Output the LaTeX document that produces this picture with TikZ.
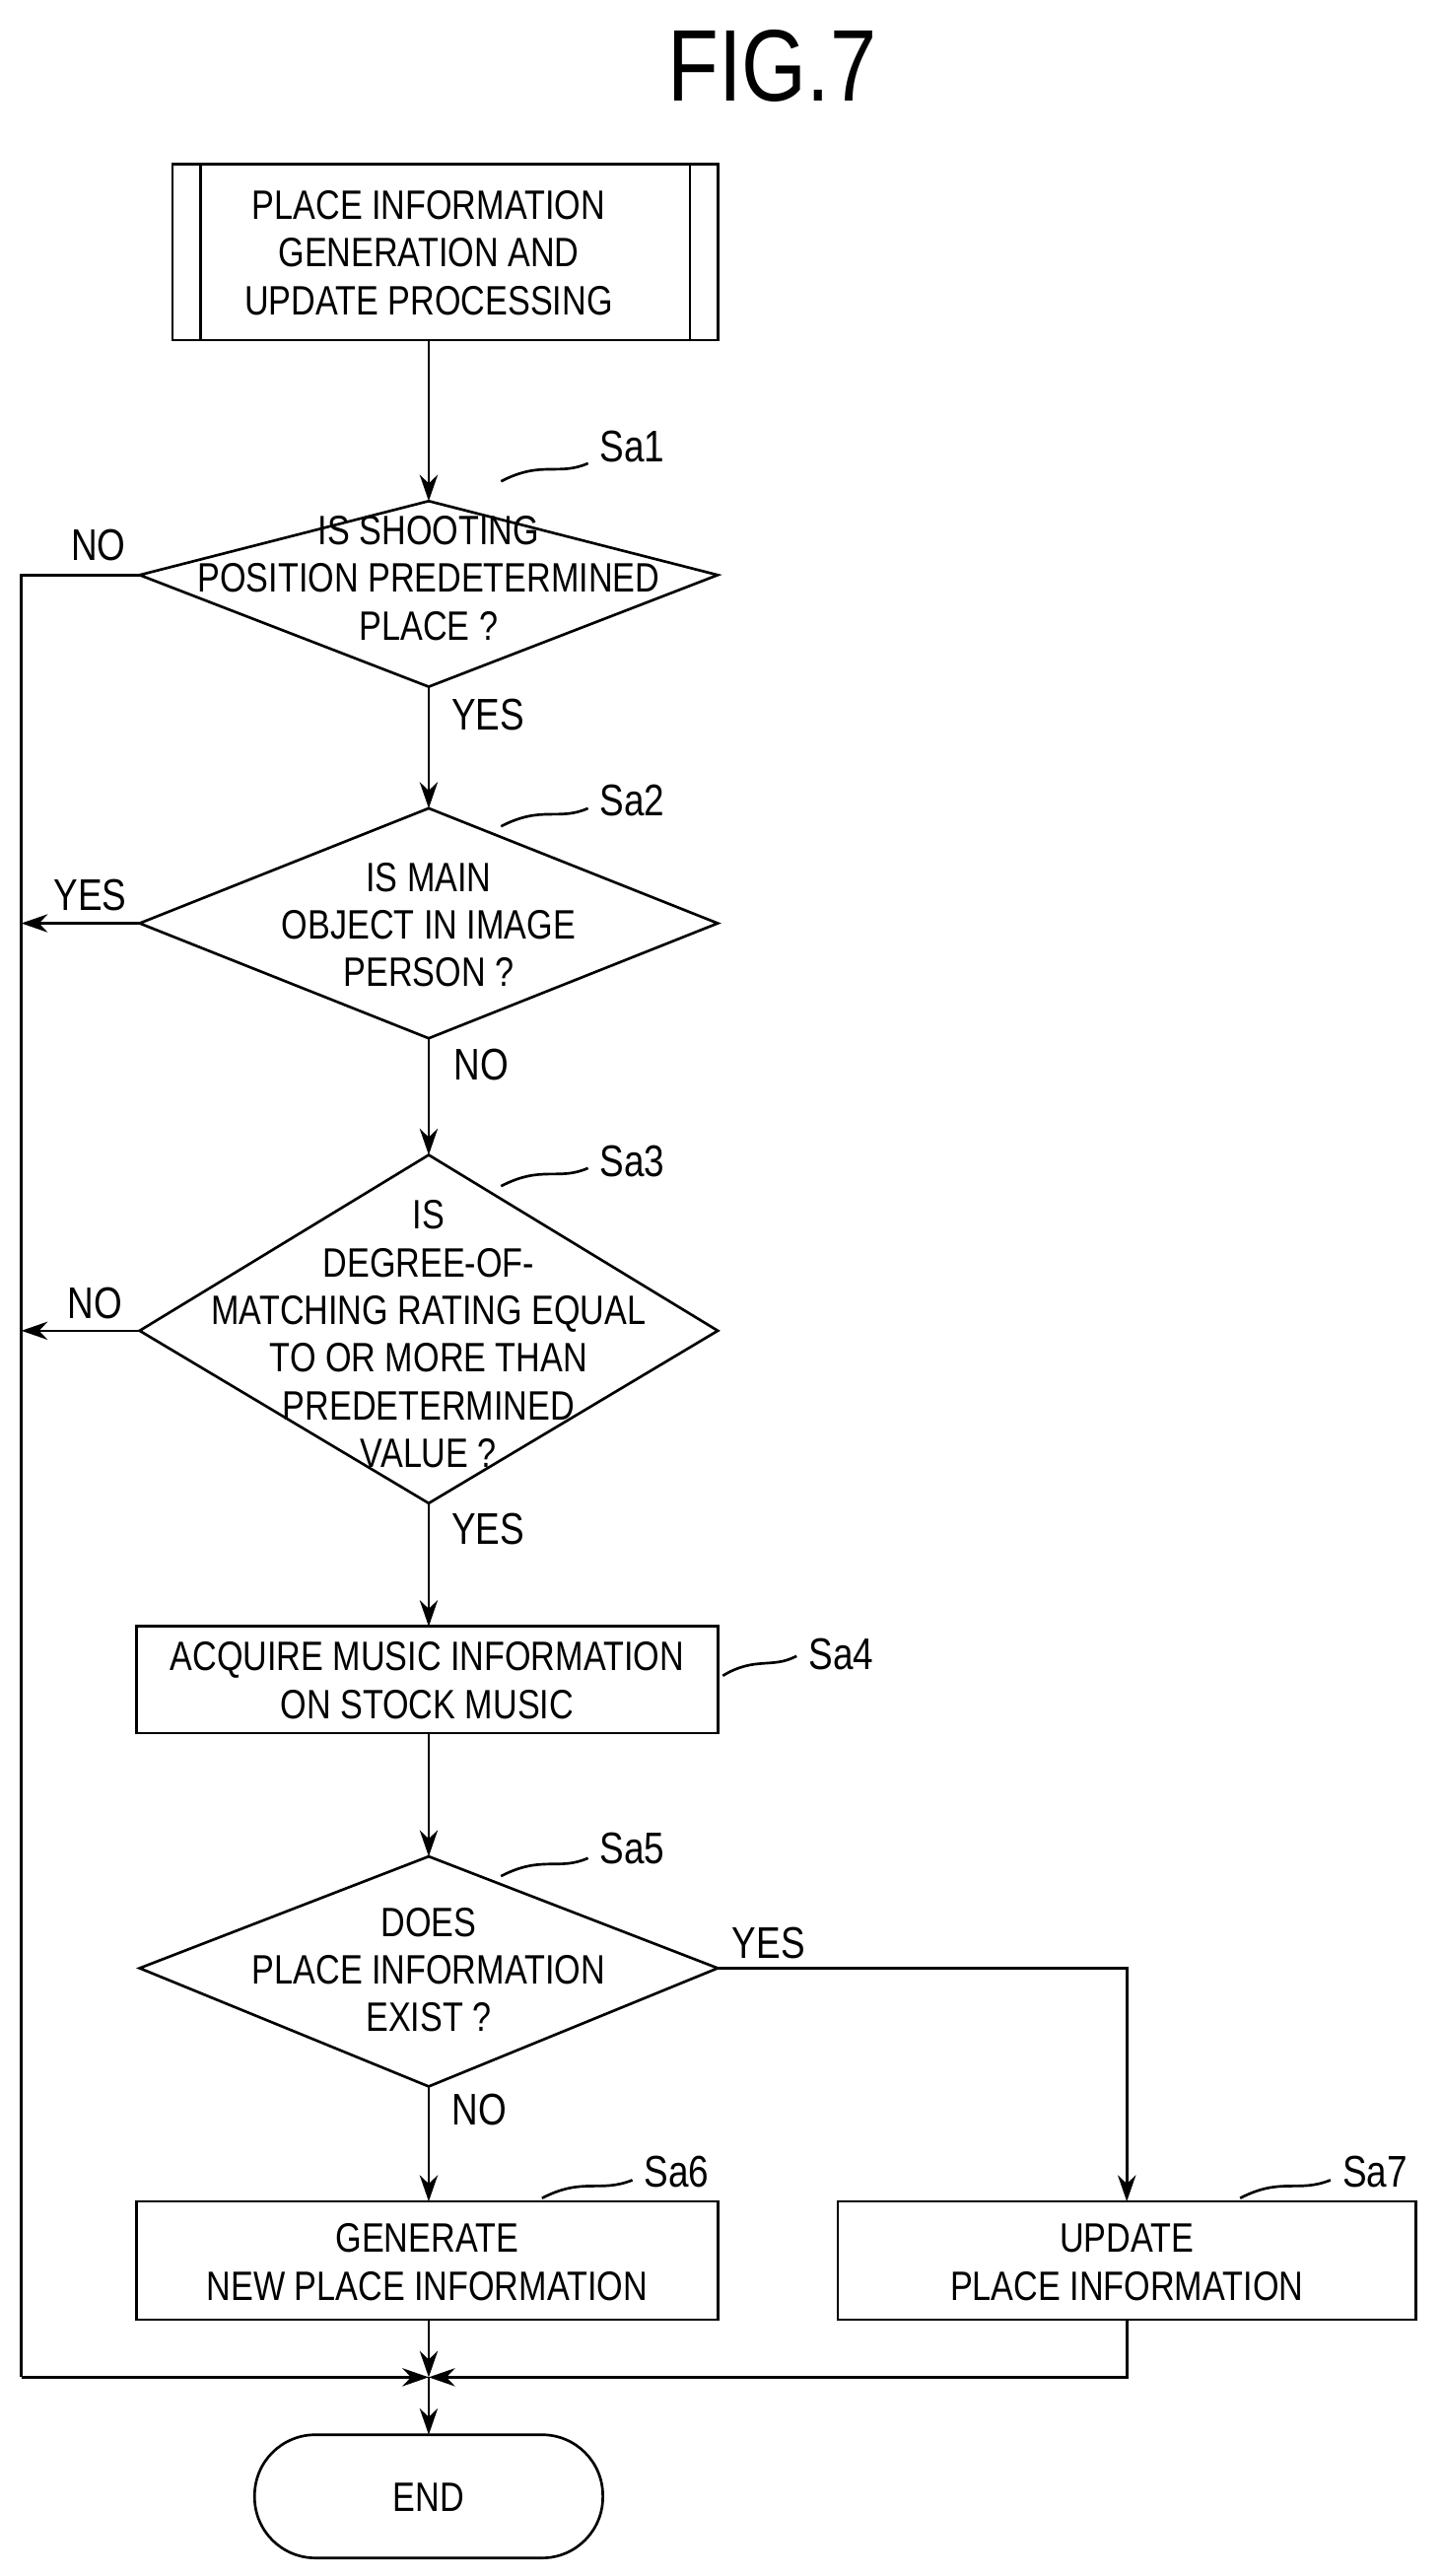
\documentclass[tikz,border=0pt]{standalone}
\usepackage{fontspec}
\setmainfont{Liberation Sans}[FakeStretch=0.82]
\usetikzlibrary{arrows.meta}
\begin{document}
\begin{tikzpicture}[x=1pt,y=-1pt,line width=1.6pt,
  txt/.style={font=\fontsize{25}{29}\selectfont,align=center},
  lab/.style={font=\fontsize{27}{30}\selectfont},
  arr/.style={-{Stealth[length=16pt,width=11pt]}}]
\useasboundingbox (0,0) rectangle (878,1568);
\node[font=\fontsize{62}{62}\selectfont] (title) at (470,40) {FIG.7};
% start
\draw (105,100) rectangle (437,207);
\draw (122,100)--(122,207) (420,100)--(420,207);
\node[txt] (start) at (261,154) {PLACE INFORMATION\\GENERATION AND\\UPDATE PROCESSING};
\coordinate (stb) at (261,207);
% diamonds
\coordinate (d1t) at (261,305); \coordinate (d1b) at (261,418); \coordinate (d1l) at (85,350); \coordinate (d1r) at (437,350);
\draw (d1t)--(d1r)--(d1b)--(d1l)--cycle;
\node[txt] (q1) at (261,352) {IS SHOOTING\\POSITION PREDETERMINED\\PLACE ?};
\coordinate (d2t) at (261,492); \coordinate (d2b) at (261,632); \coordinate (d2l) at (85,562); \coordinate (d2r) at (437,562);
\draw (d2t)--(d2r)--(d2b)--(d2l)--cycle;
\node[txt] (q2) at (261,563) {IS MAIN\\OBJECT IN IMAGE\\PERSON ?};
\coordinate (d3t) at (261,703); \coordinate (d3b) at (261,915); \coordinate (d3l) at (85,810); \coordinate (d3r) at (437,810);
\draw (d3t)--(d3r)--(d3b)--(d3l)--cycle;
\node[txt] (q3) at (261,812) {IS\\DEGREE-OF-\\MATCHING RATING EQUAL\\TO OR MORE THAN\\PREDETERMINED\\VALUE ?};
\draw (83,990) rectangle (437,1055);
\node[txt] (b4) at (260,1023) {ACQUIRE MUSIC INFORMATION\\ON STOCK MUSIC};
\coordinate (b4t) at (261,990); \coordinate (b4b) at (261,1055);
\coordinate (d5t) at (261,1130); \coordinate (d5b) at (261,1270); \coordinate (d5l) at (85,1198); \coordinate (d5r) at (437,1198);
\draw (d5t)--(d5r)--(d5b)--(d5l)--cycle;
\node[txt] (q5) at (261,1199) {DOES\\PLACE INFORMATION\\EXIST ?};
\draw (83,1340) rectangle (437,1412);
\node[txt] (b6) at (260,1377) {GENERATE\\NEW PLACE INFORMATION};
\coordinate (b6t) at (261,1340); \coordinate (b6b) at (261,1412);
\draw (510,1340) rectangle (862,1412);
\node[txt] (b7) at (686,1377) {UPDATE\\PLACE INFORMATION};
\coordinate (b7t) at (686,1340); \coordinate (b7b) at (686,1412);
\draw[rounded corners=37pt] (155,1482) rectangle (367,1557);
\node[txt] (end) at (261,1520) {END};
\coordinate (endt) at (261,1482);
\coordinate (m) at (261,1447);
% connectors
\draw[arr] (stb)--(d1t);
\draw[arr] (d1b)--(d2t);
\draw[arr] (d2b)--(d3t);
\draw[arr] (d3b)--(b4t);
\draw[arr] (b4b)--(d5t);
\draw[arr] (d5b)--(b6t);
\draw[arr] (d5r)--(686,1198)--(b7t);
\draw (d1l)--(13,350)--(13,1447);
\draw[arr] (13,1447)--(m);
\draw[arr] (b7b)--(686,1447)--(m);
\draw[arr] (b6b)--(m);
\draw[arr] (m)--(endt);
\draw[arr] (d2l)--(13,562);
\draw[arr] (d3l)--(13,810);
% labels
\node[lab] at (60,332) {NO};
\node[lab] at (297,435) {YES};
\node[lab] at (55,545) {YES};
\node[lab] at (293,648) {NO};
\node[lab] at (58,793) {NO};
\node[lab] at (297,931) {YES};
\node[lab] at (468,1183) {YES};
\node[lab] at (292,1284) {NO};
% step labels
\node[lab] at (385,272) {Sa1};
\draw (305,293) .. controls (330,280) and (340,290) .. (358,282);
\node[lab] at (385,487) {Sa2};
\draw (305,503) .. controls (330,490) and (340,500) .. (358,492);
\node[lab] at (385,707) {Sa3};
\draw (305,722) .. controls (330,709) and (340,719) .. (358,711);
\node[lab] at (512,1007) {Sa4};
\draw (440,1020) .. controls (460,1008) and (470,1016) .. (485,1008);
\node[lab] at (385,1125) {Sa5};
\draw (305,1142) .. controls (330,1129) and (340,1139) .. (358,1131);
\node[lab] at (412,1322) {Sa6};
\draw (330,1338) .. controls (355,1325) and (365,1335) .. (385,1327);
\node[lab] at (837,1322) {Sa7};
\draw (755,1338) .. controls (780,1325) and (790,1335) .. (810,1327);
\end{tikzpicture}
\end{document}
